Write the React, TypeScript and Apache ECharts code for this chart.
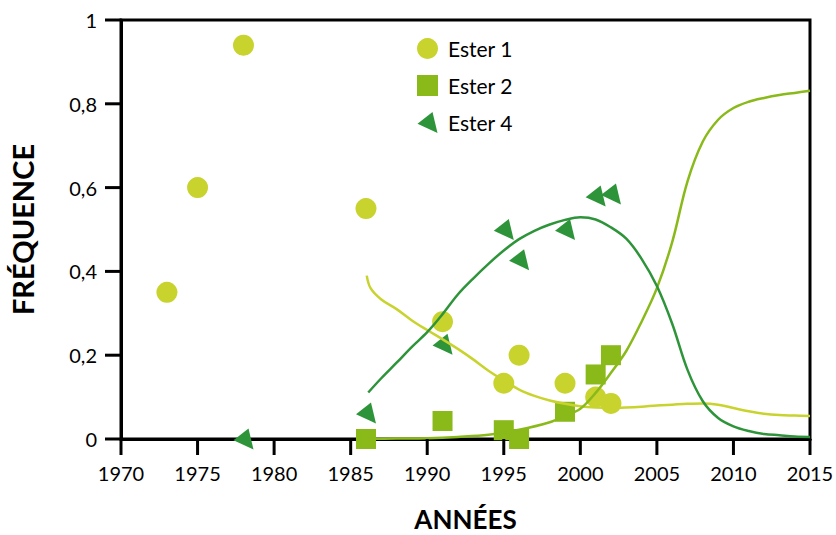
import React, { useEffect, useRef } from "react";
import * as echarts from "echarts";

const COLOR_E1 = "#c9d32e";
const COLOR_E2 = "#8ab91a";
const COLOR_E4 = "#2e943a";

const xRange = { min: 1970, max: 2015, interval: 5 };
const yRange = { min: 0, max: 1, interval: 0.2 };
const xTickValues = [1970, 1975, 1980, 1985, 1990, 1995, 2000, 2005, 2010, 2015];
const yTickValues = [0, 0.2, 0.4, 0.6, 0.8, 1];

// Observed points
const ester1Years = [1973, 1975, 1978, 1986, 1991, 1995, 1996, 1999, 2001, 2002];
const ester1Values = [0.35, 0.6, 0.94, 0.55, 0.28, 0.133, 0.2, 0.133, 0.1, 0.085];

const ester2Years = [1986, 1991, 1995, 1996, 1999, 2001, 2002];
const ester2Values = [0, 0.043, 0.021, 0, 0.065, 0.154, 0.2];

const ester4Years = [1978, 1986, 1991, 1995, 1996, 1999, 2001, 2002];
const ester4Values = [0, 0.062, 0.226, 0.5, 0.428, 0.5, 0.58, 0.585];

// Fitted curves
const fit1Years = [1986.05, 1986.3, 1987, 1988, 1989, 1990, 1991, 1992, 1993, 1994, 1995, 1996, 1997, 1998, 1999, 2000, 2001, 2002, 2003, 2004, 2005, 2006, 2007, 2008, 2009, 2010, 2011, 2012, 2013, 2014, 2015];
const fit1Values = [0.39, 0.36, 0.333, 0.31, 0.283, 0.26, 0.238, 0.215, 0.19, 0.163, 0.14, 0.118, 0.103, 0.092, 0.084, 0.078, 0.075, 0.074, 0.075, 0.077, 0.08, 0.082, 0.084, 0.085, 0.082, 0.074, 0.066, 0.06, 0.057, 0.056, 0.055];

const fit2Years = [1986, 1988, 1990, 1992, 1994, 1996, 1998, 1999, 2000, 2001, 2002, 2003, 2004, 2005, 2006, 2007, 2008, 2009, 2010, 2011, 2012, 2013, 2014, 2015];
const fit2Values = [0, 0.001, 0.002, 0.005, 0.01, 0.022, 0.04, 0.055, 0.072, 0.11, 0.158, 0.21, 0.28, 0.36, 0.47, 0.615, 0.71, 0.762, 0.79, 0.805, 0.814, 0.821, 0.826, 0.831];

const fit4Years = [1986.15, 1987, 1988, 1989, 1990, 1991, 1992, 1993, 1994, 1995, 1996, 1997, 1998, 1999, 2000, 2001, 2002, 2003, 2004, 2005, 2006, 2007, 2008, 2009, 2010, 2011, 2012, 2013, 2014, 2015];
const fit4Values = [0.111, 0.145, 0.182, 0.22, 0.255, 0.298, 0.345, 0.383, 0.418, 0.45, 0.477, 0.497, 0.512, 0.523, 0.529, 0.524, 0.505, 0.478, 0.43, 0.365, 0.275, 0.165, 0.09, 0.05, 0.03, 0.019, 0.012, 0.009, 0.006, 0.005];

const seriesNames = ["Ester 1", "Ester 2", "Ester 4"];

const TRIANGLE = "path://M0,35L45,0L60,63Z";

const zip = (xs: number[], ys: number[]) => xs.map((x, i) => [x, ys[i]]);

export default function App() {
  const ref = useRef<HTMLDivElement>(null);
  useEffect(() => {
    if (!ref.current) return;
    const chart = echarts.init(ref.current, undefined, { renderer: "svg" });
    const font = "Lato, 'Noto Sans', sans-serif";
    const TICK_LEN = 16;
    const fitLine = (name: string, color: string, xs: number[], ys: number[]) => ({
      name,
      type: "line",
      smooth: 0.35,
      showSymbol: false,
      symbol: "none",
      lineStyle: { color, width: 2.5 },
      data: zip(xs, ys),
      z: 3,
    });
    chart.setOption({
      animation: false,
      backgroundColor: "#fff",
      grid: {
        left: 121,
        right: 26,
        top: 20,
        bottom: 96,
        outerBoundsMode: "none",
        show: true,
        borderColor: "#000",
        borderWidth: 3,
      },
      legend: {
        orient: "vertical",
        left: 412,
        top: 33,
        itemWidth: 21,
        itemHeight: 21,
        itemGap: 16,
        textStyle: { fontFamily: font, fontSize: 21, color: "#000", padding: [0, 0, 0, 5] },
        data: [
          { name: seriesNames[0], icon: "circle" },
          { name: seriesNames[1], icon: "rect" },
          { name: seriesNames[2], icon: TRIANGLE },
        ],
      },
      xAxis: {
        type: "value",
        min: xRange.min,
        max: xRange.max,
        interval: xRange.interval,
        name: "ANNÉES",
        nameLocation: "middle",
        nameGap: 70,
        nameTextStyle: { fontFamily: font, fontWeight: "bold", fontSize: 26, lineHeight: 20, color: "#000" },
        axisLine: { show: true, onZero: false, lineStyle: { color: "#000", width: 3 } },
        axisTick: { show: false },
        splitLine: { show: false },
        axisLabel: { fontFamily: font, fontSize: 20, color: "#000", margin: 24, formatter: (v: number) => String(v) },
      },
      yAxis: {
        type: "value",
        min: yRange.min,
        max: yRange.max,
        interval: yRange.interval,
        name: "FRÉQUENCE",
        nameLocation: "middle",
        nameGap: 84,
        nameTextStyle: { fontFamily: font, fontWeight: "bold", fontSize: 29, color: "#000" },
        axisLine: { show: true, onZero: false, lineStyle: { color: "#000", width: 3 } },
        axisTick: { show: false },
        splitLine: { show: false },
        axisLabel: {
          fontFamily: font,
          fontSize: 20,
          color: "#000",
          margin: 24,
          formatter: (v: number) => String(Math.round(v * 10) / 10).replace(".", ","),
        },
      },
      series: [
        {
          name: seriesNames[0],
          type: "scatter",
          symbol: "circle",
          symbolSize: 21,
          itemStyle: { color: COLOR_E1, opacity: 1 },
          data: zip(ester1Years, ester1Values),
          z: 2,
        },
        {
          name: seriesNames[1],
          type: "scatter",
          symbol: "rect",
          symbolSize: 20,
          itemStyle: { color: COLOR_E2, opacity: 1 },
          data: zip(ester2Years, ester2Values),
          z: 2,
        },
        {
          name: seriesNames[2],
          type: "scatter",
          symbol: TRIANGLE,
          symbolSize: [20, 21],
          itemStyle: { color: COLOR_E4, opacity: 1 },
          data: zip(ester4Years, ester4Values),
          z: 2,
        },
        fitLine("fit1", COLOR_E1, fit1Years, fit1Values),
        fitLine("fit2", COLOR_E2, fit2Years, fit2Values),
        fitLine("fit4", COLOR_E4, fit4Years, fit4Values),
      ],
    });
    // Axis ticks (outward), positioned through the chart's own scales
    const ticks: any[] = [];
    xTickValues.forEach((v) => {
      const p = chart.convertToPixel({ gridIndex: 0 }, [v, yRange.min]) as number[];
      ticks.push({
        type: "rect",
        z: 100,
        shape: { x: p[0] - 1.5, y: p[1], width: 3, height: TICK_LEN },
        style: { fill: "#000" },
      });
    });
    yTickValues.forEach((v) => {
      const p = chart.convertToPixel({ gridIndex: 0 }, [xRange.min, v]) as number[];
      ticks.push({
        type: "rect",
        z: 100,
        shape: { x: p[0] - TICK_LEN, y: p[1] - 1.5, width: TICK_LEN, height: 3 },
        style: { fill: "#000" },
      });
    });
    chart.setOption({ graphic: ticks });
    return () => chart.dispose();
  }, []);
  return <div ref={ref} style={{ position: "fixed", left: 0, top: 0, width: 836, height: 535 }} />;
}
